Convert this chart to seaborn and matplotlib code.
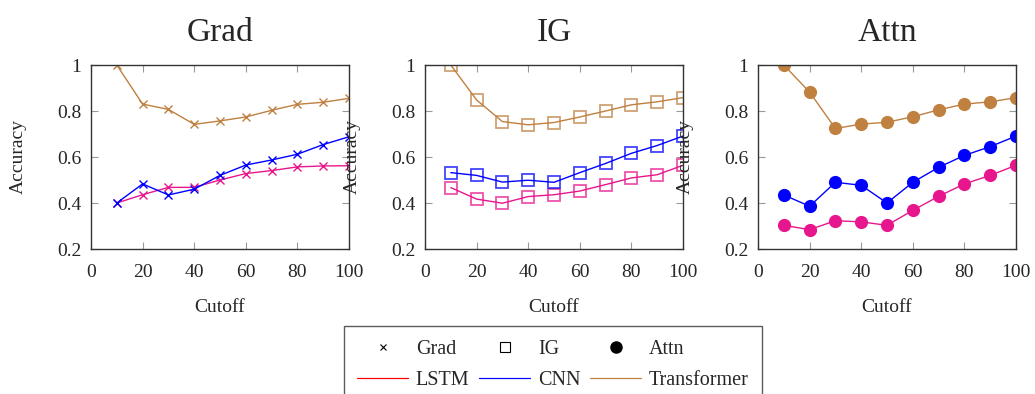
import matplotlib.pyplot as plt
import pandas as pd
import seaborn as sns
from matplotlib.lines import Line2D

# Data
cutoffs = [10, 20, 30, 40, 50, 60, 70, 80, 90, 100]
models = ["LSTM", "CNN", "Transformer"]
methods = ["Grad", "IG", "Attn"]

grad_lstm = [0.40, 0.436, 0.468, 0.468, 0.50, 0.528, 0.541, 0.557, 0.561, 0.562]
grad_cnn = [0.40, 0.483, 0.435, 0.46, 0.52, 0.565, 0.587, 0.612, 0.654, 0.688]
grad_transformer = [1.0, 0.83, 0.807, 0.742, 0.757, 0.774, 0.803, 0.829, 0.838, 0.855]

ig_lstm = [0.467, 0.417, 0.399, 0.428, 0.436, 0.452, 0.48, 0.509, 0.523, 0.564]
ig_cnn = [0.532, 0.52, 0.491, 0.499, 0.49, 0.532, 0.572, 0.616, 0.65, 0.691]
ig_transformer = [1.0, 0.848, 0.754, 0.74, 0.75, 0.774, 0.80, 0.827, 0.84, 0.858]

attn_lstm = [0.303, 0.284, 0.323, 0.318, 0.303, 0.368, 0.429, 0.483, 0.52, 0.564]
attn_cnn = [0.435, 0.386, 0.49, 0.477, 0.40, 0.49, 0.555, 0.607, 0.645, 0.691]
attn_transformer = [1.0, 0.882, 0.724, 0.743, 0.751, 0.775, 0.805, 0.83, 0.84, 0.858]

values = {
    "Grad": [grad_lstm, grad_cnn, grad_transformer],
    "IG": [ig_lstm, ig_cnn, ig_transformer],
    "Attn": [attn_lstm, attn_cnn, attn_transformer],
}

colors = {"LSTM": "#e8168c", "CNN": "#0000ff", "Transformer": "#bf8040"}
legend_colors = {"LSTM": "#ff0000", "CNN": "#0000ff", "Transformer": "#bf8040"}

sns.set_style("ticks")
plt.rcParams["font.family"] = ["Liberation Serif", "DejaVu Serif"]

fig = plt.figure(figsize=(10.35, 3.94), dpi=100)
lefts = [91 / 1035, 425 / 1035, 758 / 1035]
width = 258 / 1035
bottom = (394 - 249) / 394
height = 184 / 394

for left, method in zip(lefts, methods):
    ax = fig.add_axes([left, bottom, width, height])
    for model, ys in zip(models, values[method]):
        df = pd.DataFrame({"Cutoff": cutoffs, "Accuracy": ys})
        c = colors[model]
        if method == "Grad":
            style = dict(marker="x", markersize=6, markeredgewidth=1.0,
                         markeredgecolor=c)
        elif method == "IG":
            style = dict(marker="s", markersize=9, markeredgewidth=1.3,
                         markerfacecolor="none", markeredgecolor=c + "bb")
        else:
            style = dict(marker="o", markersize=9.5, markeredgewidth=0,
                         markerfacecolor=c)
        sns.lineplot(data=df, x="Cutoff", y="Accuracy", ax=ax, color=c,
                     linewidth=1.0, legend=False, **style)

    ax.set_xlim(0, 100)
    ax.set_ylim(0.2, 1.0)
    ax.set_xticks([0, 20, 40, 60, 80, 100])
    ax.set_yticks([0.2, 0.4, 0.6, 0.8, 1.0])
    ax.set_yticklabels(["0.2", "0.4", "0.6", "0.8", "1"])
    ax.tick_params(direction="in", length=5, color="#999999", labelsize=14,
                   top=True, right=True)
    ax.tick_params(axis="x", pad=11)
    ax.tick_params(axis="y", pad=7)
    for spine in ax.spines.values():
        spine.set_visible(True)
        spine.set_linewidth(1.0)
        spine.set_color("#333333")
    ax.set_title(method, fontsize=24, pad=17)
    ax.set_xlabel("Cutoff", fontsize=14, labelpad=13)
    ax.set_ylabel("Accuracy", fontsize=14)
    ax.yaxis.set_label_coords(-0.25, 0.5)

# legend: row 1 = method markers, row 2 = model lines (column-major order)
h_grad = Line2D([], [], color="black", marker="x", linestyle="none",
                markersize=5, markeredgewidth=0.8)
h_ig = Line2D([], [], color="black", marker="s", linestyle="none",
              markersize=7, markerfacecolor="none", markeredgewidth=0.8)
h_attn = Line2D([], [], color="black", marker="o", linestyle="none",
                markersize=8)
h_lstm = Line2D([], [], color=legend_colors["LSTM"], linewidth=0.9)
h_cnn = Line2D([], [], color=legend_colors["CNN"], linewidth=0.9)
h_tr = Line2D([], [], color=legend_colors["Transformer"], linewidth=0.9)

fig.legend(
    [h_grad, h_lstm, h_ig, h_cnn, h_attn, h_tr],
    ["Grad", "LSTM", "IG", "CNN", "Attn", "Transformer"],
    loc="upper center", bbox_to_anchor=(553 / 1035, 1 - 326 / 394),
    borderaxespad=0,
    ncol=3, fontsize=14.5, frameon=True, fancybox=False, edgecolor="#333333",
    handlelength=2.5, handletextpad=0.4, columnspacing=0.5,
    labelspacing=0.62, borderpad=0.68,
)

fig.savefig("out.png", dpi=100)
